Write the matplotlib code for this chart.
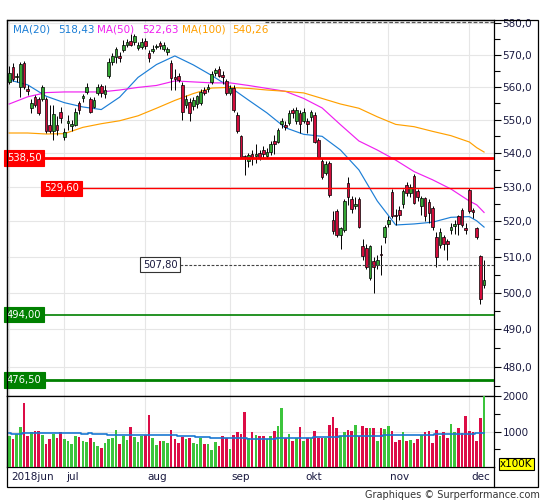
import numpy as np
import matplotlib
matplotlib.use('Agg')
import matplotlib.pyplot as plt
import matplotlib.transforms as mtransforms
from matplotlib import font_manager
from matplotlib.patches import Rectangle
from matplotlib.lines import Line2D
from matplotlib.ticker import FixedLocator, FuncFormatter, NullFormatter

# daily candles, 2018-06-11 .. 2018-12-07 (one value per trading day)
opens = [561.7, 566.2, 563.0, 560.0, 567.5, 559.5, 553.5, 556.8, 556.2, 556.2,
         556.2, 548.5, 546.7, 548.5, 552.3, 544.9, 549.0, 548.0, 548.5, 555.0,
         556.5, 558.4, 556.2, 553.9, 558.1, 560.3, 557.8, 563.3, 567.7, 569.4,
         569.7, 571.5, 573.2, 574.5, 574.0, 572.2, 572.4, 574.5, 570.5, 571.2,
         572.5, 573.8, 571.8, 570.8, 567.5, 563.0, 563.3, 560.6, 554.6, 555.5,
         554.2, 554.9, 555.0, 559.1, 559.3, 561.6, 564.3, 565.5, 563.6, 561.8,
         558.1, 559.6, 551.5, 545.0, 539.0, 537.5, 539.7, 539.0, 539.9, 540.9,
         539.0, 540.2, 543.5, 543.4, 548.8, 548.5, 549.1, 552.9, 549.5, 552.2,
         549.5, 549.7, 550.7, 551.5, 543.9, 537.6, 534.0, 537.0, 520.4, 523.0,
         516.1, 517.6, 531.2, 526.4, 524.6, 526.6, 512.9, 512.4, 504.0, 508.7,
         507.7, 510.8, 515.5, 519.3, 528.4, 521.9, 523.3, 525.0, 530.7, 528.1,
         533.2, 528.8, 524.6, 526.7, 525.7, 523.8, 515.5, 513.3, 515.5, 514.3,
         517.6, 518.8, 521.5, 523.3, 518.0, 529.0, 523.3, 518.0, 510.2, 502.0]
highs = [566.5, 567.5, 564.5, 567.8, 568.0, 560.5, 556.2, 557.5, 557.0, 560.5,
         557.0, 554.5, 554.5, 551.2, 554.0, 547.5, 551.5, 550.0, 553.5, 555.8,
         558.0, 561.4, 557.0, 557.0, 561.0, 561.0, 560.5, 569.0, 570.5, 572.5,
         571.0, 574.7, 575.0, 576.5, 576.6, 574.0, 575.5, 575.5, 571.5, 573.0,
         573.5, 574.5, 574.0, 572.5, 568.5, 565.5, 564.5, 561.5, 557.5, 556.5,
         557.0, 557.5, 559.5, 560.0, 561.0, 565.0, 566.0, 566.5, 565.0, 562.5,
         560.5, 560.5, 552.5, 545.5, 539.5, 540.0, 540.9, 542.6, 541.0, 542.0,
         541.5, 543.5, 545.3, 547.5, 550.5, 549.5, 553.0, 553.5, 553.8, 553.0,
         553.5, 550.5, 553.0, 552.5, 544.5, 538.5, 537.5, 537.5, 523.0, 523.5,
         518.5, 526.5, 532.8, 527.5, 527.0, 527.0, 515.0, 513.5, 513.2, 510.0,
         510.5, 513.3, 519.0, 521.5, 529.5, 523.5, 524.5, 529.5, 531.5, 531.0,
         533.7, 529.5, 527.5, 527.0, 526.5, 524.5, 517.0, 518.0, 516.2, 515.0,
         519.5, 520.5, 522.0, 524.0, 519.5, 529.8, 523.8, 518.5, 510.6, 509.1]
lows = [561.0, 562.0, 561.5, 557.0, 559.5, 557.6, 552.0, 554.0, 551.5, 555.8,
        546.0, 546.0, 543.9, 545.5, 549.0, 544.0, 547.0, 546.5, 548.0, 551.6,
        555.5, 558.0, 552.0, 553.5, 557.5, 557.0, 556.5, 562.7, 567.0, 567.4,
        567.7, 570.9, 572.5, 572.8, 573.2, 571.5, 572.0, 572.0, 567.9, 570.5,
        571.8, 572.0, 571.2, 570.0, 559.1, 559.0, 561.5, 550.0, 553.5, 549.5,
        553.0, 553.5, 554.5, 557.5, 558.5, 561.0, 563.5, 563.0, 561.0, 557.5,
        557.5, 552.5, 546.0, 538.5, 533.5, 536.0, 536.4, 536.9, 538.0, 538.4,
        538.5, 539.5, 539.8, 543.0, 547.4, 547.0, 548.5, 550.5, 548.8, 546.0,
        549.0, 546.0, 549.5, 543.0, 538.5, 532.3, 533.5, 527.0, 516.5, 515.5,
        512.1, 517.0, 524.8, 522.5, 523.5, 518.0, 509.1, 506.5, 503.6, 500.0,
        506.5, 505.0, 514.0, 518.5, 521.0, 519.0, 520.5, 524.0, 527.5, 527.0,
        525.0, 526.0, 522.0, 520.0, 519.5, 517.5, 507.2, 512.5, 511.9, 509.1,
        516.5, 516.5, 516.0, 518.5, 516.5, 522.5, 521.0, 515.0, 496.8, 501.2]
closes = [564.5, 562.5, 563.4, 567.1, 560.0, 558.8, 555.2, 554.5, 552.0, 560.0,
          546.5, 546.5, 551.8, 547.0, 550.6, 546.2, 549.7, 548.6, 552.3, 553.0,
          557.3, 560.1, 552.4, 556.0, 560.1, 558.1, 559.1, 567.9, 569.7, 572.0,
          569.2, 573.1, 574.2, 573.2, 576.1, 573.0, 574.1, 572.7, 569.2, 572.0,
          572.8, 572.8, 573.1, 572.0, 562.8, 562.5, 562.3, 552.5, 556.3, 552.2,
          556.0, 557.1, 558.6, 558.3, 560.1, 564.0, 565.3, 563.5, 563.2, 558.1,
          559.6, 553.0, 546.5, 538.9, 538.7, 539.3, 538.9, 539.7, 538.9, 539.6,
          540.4, 542.6, 542.7, 546.9, 549.5, 547.9, 552.2, 552.2, 553.0, 548.8,
          552.5, 548.8, 552.5, 543.3, 538.9, 532.9, 536.7, 527.6, 517.4, 516.1,
          518.0, 526.0, 527.0, 523.5, 525.0, 518.5, 510.3, 507.2, 512.9, 507.2,
          509.1, 510.5, 518.4, 520.4, 521.5, 521.5, 521.9, 528.8, 528.1, 530.0,
          525.4, 527.0, 526.7, 521.5, 522.3, 518.3, 510.0, 517.1, 513.6, 513.6,
          518.5, 519.3, 519.3, 519.0, 517.5, 523.1, 522.8, 515.5, 498.3, 503.5]
# volume in units of 100K
volumes = [873, 798, 920, 1127, 1812, 873, 986, 1014, 1014, 901,
           648, 789, 939, 817, 986, 789, 732, 648, 873, 845,
           732, 704, 817, 704, 592, 535, 676, 789, 817, 1042,
           648, 873, 761, 1127, 845, 704, 873, 901, 1465, 817,
           620, 732, 732, 676, 1042, 789, 676, 845, 789, 817,
           676, 648, 817, 648, 648, 479, 704, 592, 873, 817,
           507, 901, 986, 930, 1549, 817, 977, 902, 865, 865,
           780, 874, 1015, 1156, 1654, 808, 930, 733, 827, 1128,
           742, 808, 808, 1015, 827, 827, 808, 1184, 1410, 1090,
           865, 996, 1043, 1025, 1184, 884, 1156, 1090, 1090, 1090,
           733, 1090, 1071, 1156, 1015, 705, 761, 987, 733, 761,
           677, 799, 902, 977, 1015, 677, 1043, 874, 977, 827,
           1203, 977, 1090, 949, 1438, 1015, 977, 733, 1372, 2100]

month_starts = [0, 15, 37, 60, 80, 103, 125]
month_labels = ['2018jun', 'jul', 'aug', 'sep', 'okt', 'nov', 'dec']

# moving averages at these bars
ma_idx = list(range(0, 126, 5)) + [127, 129]
ma20 = [562.2, 560.7, 557.2, 555.2, 553.9, 553.1, 556.9, 563.0, 567.0, 569.7,
        566.9, 563.6, 560.0, 556.0, 552.1, 547.6, 545.6, 545.0, 540.9, 535.0,
        525.9, 519.0, 519.3, 519.8, 521.2, 521.4, 520.2, 518.4]
ma50 = [554.8, 557.0, 558.3, 558.5, 558.5, 558.5, 559.1, 559.9, 560.5, 561.9,
        561.6, 561.3, 561.3, 560.5, 559.6, 558.7, 556.5, 553.6, 548.5, 543.6,
        540.9, 537.9, 534.5, 532.1, 529.4, 525.9, 524.8, 522.6]
ma100 = [546.0, 546.0, 545.7, 545.8, 547.7, 548.8, 549.7, 551.2, 553.5, 555.9,
         558.0, 559.7, 559.9, 559.6, 559.1, 558.7, 558.2, 556.5, 554.8, 553.5,
         550.9, 548.6, 547.9, 546.5, 545.2, 543.3, 541.6, 540.3]
ma_names = ['MA(20)', 'MA(50)', 'MA(100)']
ma_last = [518.43, 522.63, 540.26]

# volume average, as steps: first bar of each step and its value
vol_ma_starts = [0, 1, 4, 20, 22, 23, 27, 46, 51, 55, 65, 73, 83, 90, 102, 116, 127]
vol_ma_vals = [948, 920, 948, 920, 948, 920, 892, 864, 836, 808, 790, 808, 836, 865, 893, 921, 955]

levels = [538.5, 529.6, 507.8, 494.0, 476.5]
top_dashed_level = 580.6

# ---- styling ----
W, H = 545, 500
C_UP, C_DN = '#34a534', '#d20c3c'
V_UP, V_DN = '#3cc43c', '#dc0c46'
MA_COLORS = ['#1c7ed6', '#f020f0', '#ffa000']
TXT = '#1a1a40'
GRID = '#e6e6e6'

plt.rcParams['font.family'] = ['DejaVu Sans']

# narrow face for the level tags if one is installed
tag_font = dict(family=['DejaVu Sans'], fontsize=7.0)
for f in font_manager.fontManager.ttflist:
    if f.name == 'Liberation Sans Narrow':
        tag_font = dict(family=['Liberation Sans Narrow', 'DejaVu Sans'], fontsize=9.2)
        break
    if f.name == 'DejaVu Sans' and f.stretch == 'condensed':
        tag_font = dict(family=['DejaVu Sans'], fontstretch='condensed', fontsize=8.0)


def frac(x0, y0, x1, y1):
    return [x0 / W, 1 - y1 / H, (x1 - x0) / W, (y1 - y0) / H]


def comma(v, nd):
    return f'{v:.{nd}f}'.replace('.', ',')


fig = plt.figure(figsize=(W / 100, H / 100), dpi=100)
ax = fig.add_axes(frac(7, 20, 494, 396))
axv = fig.add_axes(frac(7, 396, 494, 467), sharex=ax)

n = len(closes)
x = np.arange(n)
o, h, l, c = map(np.asarray, (opens, highs, lows, closes))
up = c >= o

# candles
ax.vlines(x, l, h, color='black', lw=0.7, zorder=3)
ax.bar(x, np.maximum(np.abs(c - o), 0.15), bottom=np.minimum(o, c), width=0.72,
       color=np.where(up, C_UP, C_DN), edgecolor='black', linewidth=0.5, zorder=4)

for vals, col in zip([ma20, ma50, ma100], MA_COLORS):
    ax.plot(ma_idx, vals, color=col, lw=0.85, zorder=2)

ax.set_yscale('log')
ax.set_ylim(472.3, 581.1)
ax.set_xlim(-0.6, n + 1.7)

major = list(range(480, 581, 10))
ax.yaxis.set_major_locator(FixedLocator(major))
ax.yaxis.set_minor_locator(FixedLocator([m + 5 for m in range(470, 576, 10)]))
ax.yaxis.set_major_formatter(FuncFormatter(lambda v, p: comma(v, 1)))
ax.yaxis.set_minor_formatter(NullFormatter())
ax.yaxis.tick_right()
ax.tick_params(axis='y', which='major', direction='out', length=5, width=0.8,
               labelsize=7.5, labelcolor=TXT, pad=1)
ax.tick_params(axis='y', which='minor', direction='out', length=4, width=0.8)
ax.set_xticks(month_starts)
ax.tick_params(axis='x', length=0, labelbottom=False)
ax.grid(True, which='major', color=GRID, lw=0.8, zorder=0)
ax.set_axisbelow(True)

# level lines with their tags
lvl_style = [
    dict(color='#ff0000', lw=2.0, ls='-', tag_x=0.0, line_x=0.0, fc='#ff0000', tc='white', ec='#ff0000'),
    dict(color='#ff0000', lw=1.0, ls='-', tag_x=0.076, line_x=0.152, fc='#ff0000', tc='white', ec='#ff0000'),
    dict(color='#444444', lw=0.8, ls=(0, (2.5, 1.5)), tag_x=0.279, line_x=0.355, fc='white', tc=TXT, ec='#333333'),
    dict(color='#008000', lw=1.2, ls='-', tag_x=0.0, line_x=0.0, fc='#008000', tc='white', ec='#008000'),
    dict(color='#008000', lw=2.0, ls='-', tag_x=0.0, line_x=0.0, fc='#008000', tc='white', ec='#008000'),
]
for lv, st in zip(levels, lvl_style):
    ax.axhline(lv, xmin=st['line_x'], xmax=1, color=st['color'], lw=st['lw'], ls=st['ls'], zorder=5)
    ax.text(st['tag_x'], lv, comma(lv, 2), transform=ax.get_yaxis_transform(),
            ha='left', va='center', color=st['tc'], zorder=7,
            bbox=dict(boxstyle='square,pad=0.25', fc=st['fc'], ec=st['ec'], lw=0.8), **tag_font)
ax.axhline(top_dashed_level, xmin=0.53, xmax=1, color='#555555', lw=0.9, ls=(0, (3, 1.5)), zorder=5)

# MA legend at the top
leg_px = [(13, 58), (97, 142), (182, 232)]
for (px_name, px_val), name, val, col in zip(leg_px, ma_names, ma_last, MA_COLORS):
    for px, s in ((px_name, name), (px_val, comma(val, 2))):
        ax.text((px - 7) / 487, 1 - 9.5 / 376, s, transform=ax.transAxes, ha='left', va='center',
                fontsize=7.5, color=col, zorder=8)

# volume panel
axv.bar(x, volumes, width=0.72, color=np.where(up, V_UP, V_DN), zorder=3)
seg_len = np.diff(vol_ma_starts + [n])
vol_ma = np.repeat(vol_ma_vals, seg_len)
axv.step(x, vol_ma, where='mid', color='#1a78d2', lw=1.2, zorder=4)
axv.set_ylim(0, 2000)
axv.yaxis.set_major_locator(FixedLocator([1000, 2000]))
axv.yaxis.set_minor_locator(FixedLocator([500, 1500]))
axv.yaxis.set_major_formatter(FuncFormatter(lambda v, p: f'{v:.0f}'))
axv.yaxis.tick_right()
axv.tick_params(axis='y', which='major', direction='out', length=5, width=0.8,
                labelsize=7.5, labelcolor=TXT, pad=1)
axv.tick_params(axis='y', which='minor', direction='out', length=4, width=0.8)
axv.set_xticks(month_starts)
axv.tick_params(axis='x', length=0, labelbottom=False)
axv.grid(True, which='major', color=GRID, lw=0.8, zorder=0)
axv.set_axisbelow(True)

trans = mtransforms.blended_transform_factory(axv.transData, axv.transAxes)
for m, lab in zip(month_starts, month_labels):
    axv.text(m + 0.45, -0.145, lab, transform=trans, ha='left', va='center',
             fontsize=7.5, color=TXT, clip_on=False)

for a in (ax, axv):
    for sp in a.spines.values():
        sp.set_color('black')
        sp.set_linewidth(0.9)

# outer frame and date band
fig.add_artist(Rectangle((7 / W, 1 - 487 / H), 530.5 / W, 467 / H, transform=fig.transFigure,
                         fill=False, ec='black', lw=0.9))
fig.add_artist(Line2D([494 / W, 494 / W], [1 - 487 / H, 1 - 467 / H], transform=fig.transFigure,
                      color='black', lw=0.9))

fig.text(516 / W, 1 - 464 / H, 'x100K', ha='center', va='center', fontsize=7.5, color='black',
         bbox=dict(boxstyle='square,pad=0.12', fc='#ffff00', ec='black', lw=0.8))
fig.text(540 / W, 1 - 495 / H, 'Graphiques \u00a9 Surperformance.com', ha='right', va='center',
         fontsize=7, color='#333333')

fig.savefig('out.png', dpi=100)
